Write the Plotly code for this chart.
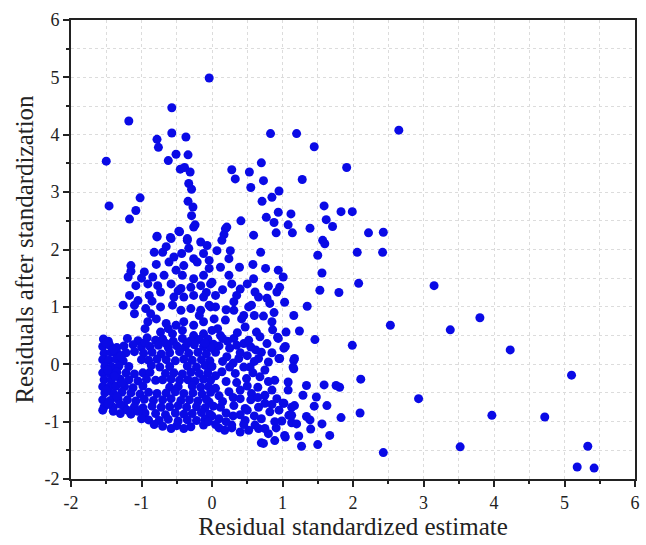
import plotly.graph_objects as go

# Sparse / outer points
x_outer = [-0.04, -0.57, -1.18, -0.57, -0.78, -0.76, -0.37, -0.51, -0.34, -0.62, -1.50, -0.45, -0.39, -0.31,
           -0.33, -0.29, -1.02, -1.46, -1.08, -1.17, -0.34, -0.27, -0.29, -0.24, -0.46, -0.78, -0.59, -0.35,
           0.28, 0.33, 0.53, 0.55, 0.41, 0.21, 0.17, 0.59, 0.83, 1.20, 1.45, 2.65, 0.70, 0.73, 1.28, 1.91,
           0.71, 0.85, 0.95, 1.59, 1.83, 1.99, 1.62, 1.71, 0.94, 1.12, 0.77, 0.88, 1.08, 1.14, 0.91, 1.39,
           2.22, 2.43, 1.57, 1.60, 2.42, 3.15, 2.53, 3.38, 3.80, 4.23, 5.10, 2.93, 3.97, 4.72, 2.43, 3.52,
           5.33, 5.18, 5.42, 0.69, 1.50, 2.06, 1.56, 2.08, 1.53, 1.80, 1.35, 1.16, 1.24, 1.46, 1.99, 1.05,
           1.04, 0.93, 0.96, 1.16, 1.16, 2.11, 1.34, 1.59, 1.81, 1.29, 1.48, 1.63, 1.45, 1.17, 2.10, 1.83,
           1.34, 1.39, 1.56, 1.40, 1.67, 1.23, 1.27, 1.50, 0.70, 0.89, 1.04, 1.13, 0.99, 0.91, 0.66, 0.80,
           0.52, 0.28, 0.10, 1.13, 1.02, 1.09, 1.76]
y_outer = [4.99, 4.47, 4.24, 4.03, 3.92, 3.78, 3.96, 3.66, 3.65, 3.55, 3.54, 3.40, 3.43, 3.35,
           3.15, 3.05, 2.90, 2.76, 2.68, 2.53, 2.84, 2.74, 2.59, 2.43, 2.31, 2.23, 2.21, 2.19,
           3.39, 3.23, 3.35, 3.08, 2.50, 2.39, 2.26, 2.25, 4.02, 4.02, 3.79, 4.08, 3.51, 3.20, 3.22, 3.43,
           2.84, 2.91, 3.02, 2.76, 2.66, 2.66, 2.52, 2.40, 2.65, 2.62, 2.56, 2.47, 2.43, 2.29, 2.29, 2.37,
           2.29, 2.30, 2.16, 2.10, 1.95, 1.37, 0.68, 0.60, 0.81, 0.25, -0.19, -0.60, -0.89, -0.92, -1.54, -1.44,
           -1.43, -1.79, -1.81, 1.95, 1.90, 1.95, 1.59, 1.41, 1.29, 1.25, 1.01, 0.85, 0.58, 0.43, 0.33, 0.56,
           0.31, 0.47, 0.10, 0.07, -0.08, -0.26, -0.37, -0.36, -0.40, -0.54, -0.57, -0.72, -0.73, -0.72, -0.85, -0.93,
           -0.91, -0.97, -1.04, -1.13, -1.24, -1.25, -1.43, -1.40, -1.37, -1.33, -1.27, -1.02, -0.99, -1.11, -1.12, -1.21,
           -1.15, -1.11, -1.11, -0.75, -0.68, -0.89, -0.37]

# Upper-left cloud (x < 0, 0.5 < y < 2.4)
x_upper = [-0.78, -0.58, -0.47, -0.35, -0.26, -0.16, -0.07, -0.82, -0.70, -0.54, -0.43, -0.26, -0.12,
           -1.15, -0.79, -0.61, -0.40, -0.21, -0.04, -1.19, -0.96, -0.84, -0.68, -0.51, -0.42, -0.26, -0.12,
           -1.08, -0.91, -0.77, -0.58, -0.44, -0.30, -0.16, -0.02, -1.17, -1.05, -0.89, -0.73, -0.54, -0.40,
           -0.26, -0.12, -1.26, -1.10, -0.94, -0.87, -0.73, -0.56, -0.44, -0.30, -0.16, -0.02, -1.10, -0.91,
           -0.79, -0.65, -0.51, -0.40, -0.26, -0.12, -0.73, -0.56, -0.42, -0.26, -0.12,
           -1.15, -1.00, -0.95, -0.65, -0.33, -0.18, -0.85, -0.48, -0.62, -0.08]
y_upper = [2.22, 2.19, 2.32, 2.16, 2.39, 2.13, 2.07, 1.95, 1.95, 1.87, 1.93, 1.84, 1.93,
           1.72, 1.74, 1.78, 1.72, 1.78, 1.81, 1.52, 1.61, 1.52, 1.55, 1.64, 1.55, 1.49, 1.55,
           1.37, 1.40, 1.37, 1.40, 1.32, 1.34, 1.37, 1.40, 1.20, 1.11, 1.20, 1.26, 1.17, 1.17,
           1.20, 1.17, 1.03, 1.03, 0.97, 0.88, 1.00, 1.03, 0.94, 0.97, 0.94, 1.00, 0.88, 0.74,
           0.79, 0.71, 0.68, 0.74, 0.68, 0.74, 0.56, 0.53, 0.59, 0.50, 0.53,
           1.62, 1.50, 0.62, 2.05, 2.02, 0.85, 1.10, 1.28, 0.62, 1.25]

# Middle cloud (0 < x < 1)
x_mid = [0.19, 0.14, 0.07, 0.26, 0.24, -0.04, 0.12, 0.39, 0.58, 0.76, 0.94, 1.01, 0.00, 0.24, 0.28, 0.59,
         0.80, 0.96, 0.92, 0.40, 0.61, 0.66, 0.05, -0.04, 0.05, 0.31, 0.52, 0.56, 0.82, 1.03, 0.31, 0.73,
         0.85, 0.03, 0.19, 0.42, 0.47, 0.63, 0.00, 0.12, 0.31, 0.45, 0.78, 0.70, 0.94, 1.02, 1.17, 1.15,
         0.95, 0.80, 0.66, 0.54, 0.38, 0.21, 0.05, -0.04, 0.14, 0.33, 0.49, 0.68, 0.89, 1.08, 0.05, 0.24,
         0.40, 0.56, 0.75, 0.92, 1.08, -0.04, 0.12, 0.31, 0.47, 0.66, 0.82, 1.01, 1.13, 0.10, 0.28, 0.47,
         0.61, 0.75, 0.89, 1.03, 0.73, 1.20,
         0.10, 0.25, 0.40, 0.55, 0.15, 0.30, 0.45, 0.60, 0.75, 0.20, 0.35, 0.50, 0.65, 0.85, 0.10, 0.30,
         0.55, 0.75, 0.20, 0.40, 0.60, 0.05, 0.18, 0.40, 0.08, 0.22, 0.36, 0.52, 0.68, 0.86,
         0.02, 0.15, 0.35, 0.50, 0.62, 0.85, 0.05, 0.25, 0.58, 0.80, 0.40, 0.65, 0.15, 0.85, 0.30, 0.50,
         0.70, 0.95, 0.20, 0.45, 0.00, 0.88, 0.60, 0.35, 0.15, 0.50, 0.78, 0.20, 0.45]
y_mid = [2.36, 2.16, 1.98, 1.98, 1.84, 1.67, 1.69, 1.69, 1.74, 1.67, 1.64, 1.52, 1.43, 1.55, 1.40, 1.49,
         1.36, 1.34, 1.26, 1.31, 1.26, 1.17, 1.20, 1.03, 1.00, 1.09, 1.00, 1.03, 1.06, 1.08, 0.94, 0.84,
         0.74, 0.79, 0.77, 0.79, 0.65, 0.56, 0.59, 0.50, 0.45, 0.36, 0.36, 0.21, 0.45, 0.28, 0.10, -0.05,
         0.10, 0.04, 0.10, -0.05, 0.10, 0.13, 0.21, -0.02, -0.13, -0.16, -0.25, -0.22, -0.28, -0.31, -0.42, -0.48,
         -0.45, -0.51, -0.54, -0.60, -0.45, -0.66, -0.75, -0.72, -0.77, -0.75, -0.83, -0.68, -0.89, -0.95, -1.06, -0.98,
         -1.06, -1.12, -1.00, -1.24, -1.38, -1.04,
         0.32, 0.28, 0.20, 0.30, 0.05, 0.02, -0.05, 0.05, -0.10, -0.30, -0.32, -0.38, -0.40, -0.45, -0.55, -0.58,
         -0.62, -0.68, -0.85, -0.88, -0.90, -1.05, -1.15, -1.18, 0.62, 0.40, 0.55, 0.42, 0.48, 0.60,
         0.35, 0.45, 0.33, 0.15, 0.25, 0.20, -0.20, -0.05, -0.15, -0.30, -0.60, -0.58, -0.65, -0.70, -0.90, -0.80,
         -0.95, -0.80, -1.00, -1.05, -0.90, 0.90, 0.85, 1.20, 1.30, 1.40, 1.15, 0.95, 0.85]

# Dense lower-left core (x < 0, -1.1 < y < 0.5)
x_core = [-1.54, -1.47, -1.20, -1.05, -0.92, -0.80, -0.70, -0.55, -0.42, -0.30, -0.18, -0.06,
          -1.55, -1.45, -1.35, -1.25, -1.12, -1.00, -0.88, -0.76, -0.62, -0.50, -0.38, -0.25, -0.12, -0.02,
          -1.53, -1.43, -1.33, -1.22, -1.10, -0.97, -0.85, -0.72, -0.60, -0.46, -0.33, -0.20, -0.08,
          -1.55, -1.46, -1.36, -1.26, -1.00, -0.90, -0.78, -0.65, -0.52, -0.40, -0.28, -0.15, -0.03,
          -1.52, -1.42, -1.32, -1.18, -0.86, -0.74, -0.60, -0.35, -0.22, -0.10, 0.00,
          -1.55, -1.45, -1.35, -1.22, -1.10, -0.98, -0.88, -0.66, -0.54, -0.42, -0.30, -0.18, -0.06,
          -1.53, -1.43, -1.30, -1.18, -1.05, -0.93, -0.80, -0.70, -0.58, -0.46, -0.34, -0.24, -0.12, -0.02,
          -1.55, -1.46, -1.36, -1.24, -1.12, -0.98, -0.60, -0.48, -0.28, -0.16, -0.05,
          -1.52, -1.40, -1.28, -1.15, -1.02, -0.90, -0.78, -0.65, -0.52, -0.40, -0.27, -0.14, -0.02,
          -1.55, -1.44, -1.33, -1.20, -1.08, -0.96, -0.83, -0.70, -0.58, -0.44, -0.32, -0.20, -0.08,
          -1.53, -1.40, -1.25, -1.10, -0.98, -0.85, -0.72, -0.60, -0.48, -0.36, -0.22, -0.10, 0.02,
          -1.30, -1.15, -0.95, -0.80, -0.66, -0.52, -0.40, -0.28, -0.15, -0.03,
          -0.90, -0.75, -0.62, -0.48, -0.35, -0.22, -0.10,
          -0.70, -0.50, -0.30, -0.12, -1.55, -1.48,
          -1.50, -1.40, -1.30, -1.48, -1.38, -1.28, -1.50, -1.35, -1.47, -1.30, -1.20, -1.05, -1.40,
          -0.05, -0.40, -0.58, -0.82, -1.00, -0.95, -0.65, -0.35, -0.10]
y_core = [0.44, 0.40, 0.45, 0.41, 0.46, 0.42, 0.44, 0.40, 0.45, 0.41, 0.43, 0.44,
          0.31, 0.33, 0.29, 0.32, 0.34, 0.30, 0.31, 0.33, 0.29, 0.32, 0.30, 0.34, 0.31, 0.29,
          0.19, 0.21, 0.18, 0.20, 0.22, 0.19, 0.21, 0.18, 0.20, 0.22, 0.19, 0.21, 0.18,
          0.08, 0.07, 0.09, 0.06, 0.08, 0.07, 0.09, 0.08, 0.06, 0.09, 0.07, 0.08, 0.06,
          -0.04, -0.05, -0.03, -0.04, -0.02, -0.05, -0.04, -0.03, -0.05, -0.02, -0.04,
          -0.15, -0.16, -0.14, -0.15, -0.17, -0.15, -0.14, -0.16, -0.15, -0.17, -0.14, -0.16, -0.15,
          -0.27, -0.28, -0.26, -0.27, -0.29, -0.26, -0.28, -0.27, -0.26, -0.28, -0.27, -0.29, -0.26, -0.28,
          -0.39, -0.40, -0.38, -0.39, -0.41, -0.38, -0.40, -0.39, -0.38, -0.40, -0.39,
          -0.50, -0.51, -0.49, -0.50, -0.52, -0.49, -0.51, -0.50, -0.48, -0.51, -0.50, -0.52, -0.49,
          -0.62, -0.63, -0.61, -0.62, -0.64, -0.61, -0.63, -0.62, -0.60, -0.63, -0.62, -0.64, -0.61,
          -0.74, -0.75, -0.73, -0.74, -0.76, -0.73, -0.75, -0.74, -0.72, -0.75, -0.74, -0.76, -0.73,
          -0.86, -0.87, -0.85, -0.86, -0.88, -0.85, -0.87, -0.86, -0.84, -0.87,
          -0.97, -0.98, -0.96, -0.99, -0.97, -0.98, -0.96,
          -1.08, -1.07, -1.09, -1.06, -0.80, -0.70,
          0.37, 0.25, 0.14, -0.10, -0.21, -0.33, -0.45, -0.56, -0.68, -0.70, -0.80, -0.82, -0.82,
          -1.00, -1.12, -1.12, -1.05, -0.95, 0.38, 0.36, 0.37, 0.37]

x_all = x_outer + x_upper + x_mid + x_core
y_all = y_outer + y_upper + y_mid + y_core

tick_vals = [-2, -1, 0, 1, 2, 3, 4, 5, 6]
tick_text = ["-2", "-1", "0", "1", "2", "3", "4", "5", "6"]
x_title = "Residual standardized estimate"
y_title = "Residuals after standardization"

font_family = "Liberation Serif, Times New Roman, serif"

fig = go.Figure(go.Scatter(
    x=x_all, y=y_all, mode="markers",
    marker=dict(color="#0a0ae6", size=9, line=dict(width=0)),
    showlegend=False,
))

axis_common = dict(
    showline=True, linewidth=2, linecolor="#222222", mirror=True,
    ticks="outside", ticklen=6, tickwidth=1.5, tickcolor="#222222",
    showgrid=False, zeroline=False,
    tickmode="array", tickvals=tick_vals, ticktext=tick_text,
    tickfont=dict(family=font_family, size=18, color="#222222"),
    minor=dict(dtick=0.5, tick0=-2, ticks="outside", ticklen=3, tickwidth=1.5, tickcolor="#222222",
               showgrid=True, gridcolor="#dcdcdc", griddash="dot", gridwidth=1),
)

fig.update_layout(
    width=646, height=545,
    margin=dict(l=71, r=6, t=20, b=66),
    paper_bgcolor="white", plot_bgcolor="white",
    xaxis=dict(range=[-2, 6],
               title=dict(text=x_title,
                          font=dict(family=font_family, size=25, color="#222222"), standoff=0),
               **axis_common),
    yaxis=dict(range=[-2, 6],
               title=dict(text=y_title,
                          font=dict(family=font_family, size=25, color="#222222"), standoff=4),
               **axis_common),
)

fig.write_html("out.html")
